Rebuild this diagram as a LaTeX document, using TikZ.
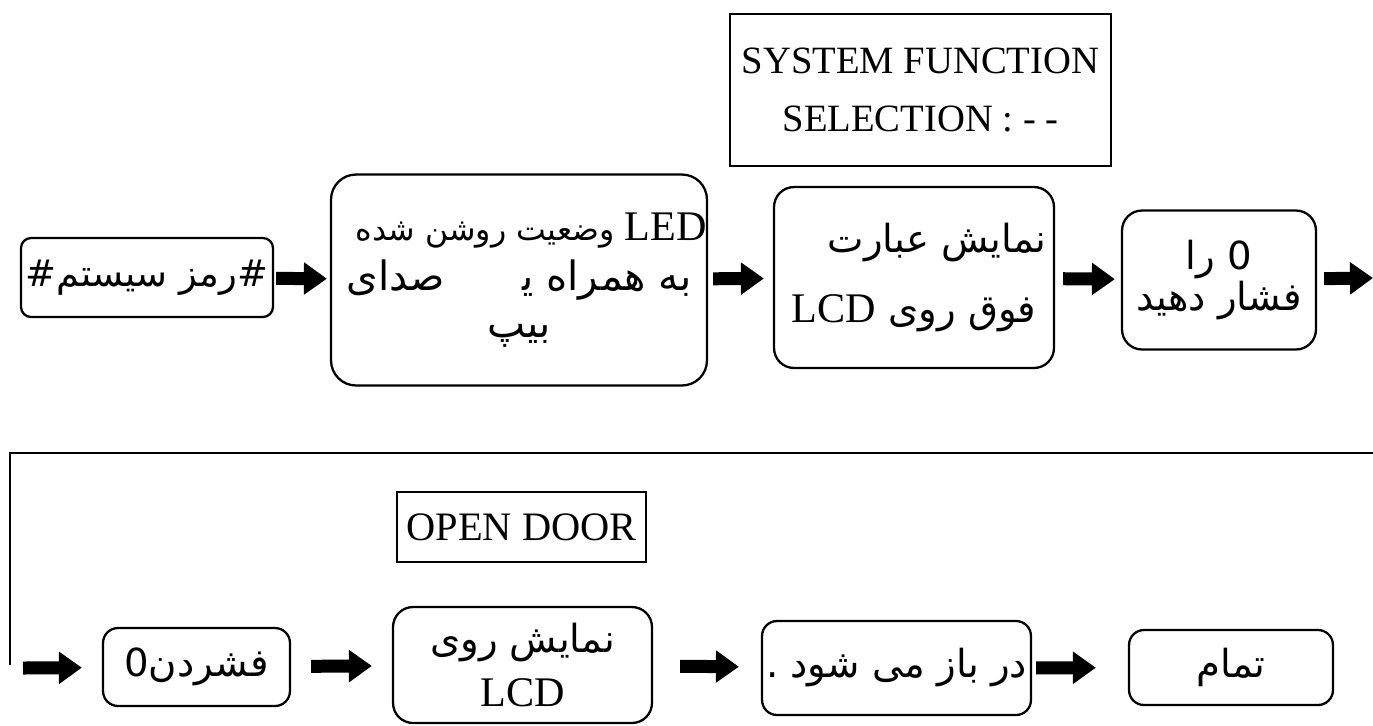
\documentclass[tikz,border=0pt]{standalone}
\usepackage{fontspec}
\setmainfont{Liberation Serif}
\newfontfamily\arabicfont[Script=Arabic]{DejaVu Sans}
\TeXXeTstate=1
\usepackage{tikz}
\usetikzlibrary{positioning,arrows.meta}

\newcommand\fa[1]{{\arabicfont\beginR #1\endR}}
\newcommand\lat[1]{{\rmfamily\beginL #1\endL}}
\newcommand\fs[1]{\fontsize{#1}{1.2\dimexpr #1pt\relax}\selectfont}

\begin{document}
\begin{tikzpicture}
[x=0.02cm, y=-0.02cm,
 stepbox/.style={draw, line width=1.3pt, rounded corners=0.4cm, inner sep=0pt, align=center, font=\fs{22}},
 msgbox/.style={draw, line width=1.3pt, inner sep=0pt, align=center},
 arrowa/.style={line width=0.26cm, -{Triangle[length=0.46cm,width=0.62cm]}},
 loopline/.style={line width=1.5pt}]
\useasboundingbox (0,0) rectangle (1373,725);

\node[stepbox, rounded corners=0.2cm, minimum width=5.04cm, minimum height=1.58cm, font=\fs{21}] (pass) at (147,277.5)
  {\fa{\#رمز سیستم\#}};
\node[stepbox, rounded corners=0.5cm, minimum width=7.52cm, minimum height=4.22cm, font=\fs{23}] (led) at (519,280)
  {\hspace*{0.6em}{\fs{18}\fa{\lat{\fs{24}LED} وضعیت روشن شده}}\\[1pt]
   \fa{به همراه ی^^^^200d\hspace{1.6em} صدای}\\[-1pt]
   \fa{بیپ}};
\node[stepbox, minimum width=5.6cm, minimum height=3.62cm] (show) at (914,277.5)
  {\hspace*{1.2em}\fa{نمایش عبارت}\\[13pt]
   \fa{فوق روی \lat{\fs{24}LCD}}};
\node[stepbox, minimum width=3.88cm, minimum height=2.78cm] (zero) at (1219,280)
  {\fa{0 را}\\[-3pt] \fa{فشار دهید}};
\node[msgbox, minimum width=7.62cm, minimum height=3.04cm, font=\fs{22}] (sysmsg) at (920.5,90)
  {SYSTEM FUNCTION\\[7pt] SELECTION : - -};
\coordinate (topend) at (1373,278);

\draw[arrowa, shorten <=0.04cm, shorten >=0.06cm] (pass) -- (led);
\draw[arrowa, shorten <=0.1cm, shorten >=0.18cm] (led) -- (show);
\draw[arrowa, shorten <=0.16cm, shorten >=0.12cm] (show) -- (zero);
\draw[arrowa, shorten <=0.14cm] (zero) -- (topend);

\coordinate (lb) at (10,665);
\coordinate (lr) at (1373,453);
\draw[loopline] (lb) |- (lr);

\coordinate (start) at (23,668);
\node[stepbox, rounded corners=0.3cm, minimum width=3.74cm, minimum height=1.56cm] (press) at (196.5,667)
  {\fa{فشردن\beginL0\endL}};
\node[stepbox, minimum width=5.18cm, minimum height=2.32cm] (lcd) at (522.5,665)
  {\fa{نمایش روی}\\[4pt] {\fs{24}LCD}};
\node[msgbox, minimum width=4.98cm, minimum height=1.4cm, font=\fs{23}] (opendoor) at (521.5,527)
  {OPEN DOOR};
\node[stepbox, rounded corners=0.3cm, minimum width=5.38cm, minimum height=1.88cm] (door) at (896.5,668)
  {\fa{در باز می شود .}};
\node[stepbox, rounded corners=0.3cm, minimum width=4.08cm, minimum height=1.5cm] (done) at (1231,667.5)
  {\fa{تمام}};

\draw[arrowa, shorten >=0.4cm] (start) -- (press);
\draw[arrowa, shorten <=0.4cm, shorten >=0.4cm] (press) -- (lcd);
\draw[arrowa, shorten <=0.54cm, shorten >=0.44cm] (lcd) -- (door);
\draw[arrowa, shorten <=0.08cm, shorten >=0.64cm] (door) -- (done);
\end{tikzpicture}
\end{document}
